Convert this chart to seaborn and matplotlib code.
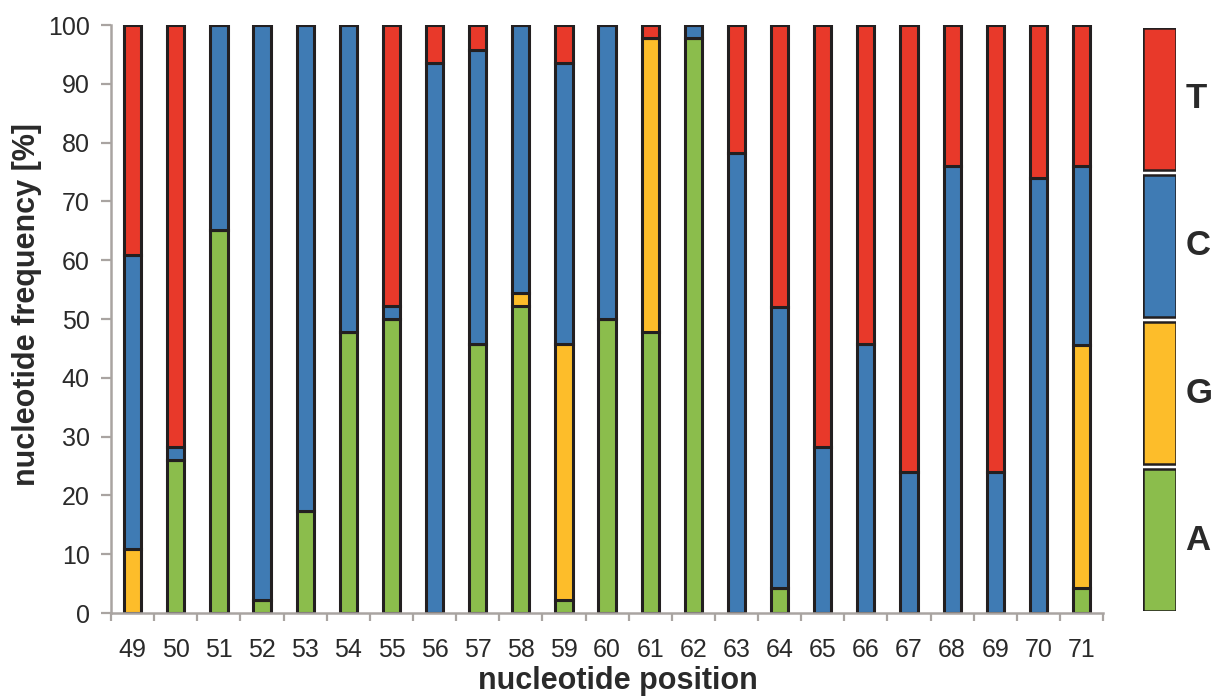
import numpy as np
import pandas as pd
import matplotlib
matplotlib.use("Agg")
import matplotlib.pyplot as plt
import seaborn as sns

# ---- data (percent per nucleotide at each position) ----
positions = list(range(49, 72))
freq_A = [0, 26.1, 65.2, 2.2, 17.4, 47.8, 50.0, 0, 45.7, 52.2, 2.2, 50.0,
          47.8, 97.8, 0, 4.3, 0, 0, 0, 0, 0, 0, 4.3]
freq_G = [10.9, 0, 0, 0, 0, 0, 0, 0, 0, 2.2, 43.5, 0,
          50.0, 0, 0, 0, 0, 0, 0, 0, 0, 0, 41.3]
freq_C = [50.0, 2.2, 34.8, 97.8, 82.6, 52.2, 2.2, 93.5, 50.0, 45.6, 47.8, 50.0,
          0, 2.2, 78.3, 47.8, 28.3, 45.7, 23.9, 76.1, 23.9, 73.9, 30.5]
freq_T = [39.1, 71.7, 0, 0, 0, 0, 47.8, 6.5, 4.3, 0, 6.5, 0,
          2.2, 0, 21.7, 47.9, 71.7, 54.3, 76.1, 23.9, 76.1, 26.1, 23.9]
nucleotides = ["T", "C", "G", "A"]          # top -> bottom
colors = {"T": "#e8392a", "C": "#3f7bb4", "G": "#fdbd2a", "A": "#8bbd4c"}
y_ticks = [0, 10, 20, 30, 40, 50, 60, 70, 80, 90, 100]

series = {"A": freq_A, "G": freq_G, "C": freq_C, "T": freq_T}
df = pd.DataFrame([
    {"position": p, "nucleotide": n, "freq": series[n][i]}
    for n in nucleotides for i, p in enumerate(positions)
])

# ---- style ----
sns.set_style("white")
plt.rcParams["font.family"] = ["Liberation Sans", "DejaVu Sans"]
edge = "#231f20"
axis_grey = "#a9a4a1"
text_col = "#2a2a2a"

fig = plt.figure(figsize=(12.15, 6.97), dpi=100)
ax = fig.add_axes([0.0914, 0.1205, 0.8165, 0.8436])

sns.histplot(data=df, x="position", weights="freq", hue="nucleotide",
             hue_order=nucleotides, palette=colors, multiple="stack",
             discrete=True, shrink=0.40, alpha=1, edgecolor=edge,
             linewidth=2.2, legend=False, ax=ax)

ax.set_xlim(positions[0] - 0.5, positions[-1] + 0.5)
ax.set_ylim(0, 100)
ax.set_xticks(positions)
ax.set_xticklabels([str(p) for p in positions])
ax.set_xticks(np.arange(positions[0] - 0.5, positions[-1] + 1.0, 1.0), minor=True)
ax.set_yticks(y_ticks)
ax.set_yticklabels([str(v) for v in y_ticks])

ax.tick_params(axis="x", which="major", length=0, pad=18, labelsize=18,
               labelcolor=text_col)
ax.tick_params(axis="x", which="minor", length=5.5, width=1.6, color=axis_grey,
               direction="out", bottom=True)
ax.tick_params(axis="y", which="major", length=7, width=1.6, color=axis_grey,
               direction="out", left=True, pad=8.5, labelsize=18,
               labelcolor=text_col)

for side in ["top", "right"]:
    ax.spines[side].set_visible(False)
for side in ["left", "bottom"]:
    ax.spines[side].set_color(axis_grey)
    ax.spines[side].set_linewidth(1.8)

ax.set_xlabel("nucleotide position", fontsize=22, fontweight="bold",
              color=text_col)
ax.set_ylabel("nucleotide frequency [%]", fontsize=22, fontweight="bold",
              color=text_col)
ax.xaxis.set_label_coords(0.5106, -0.090)
ax.yaxis.set_label_coords(-0.0696, 0.524)

# ---- legend key (stacked boxes with labels) ----
lax = fig.add_axes([0.9407, 0.1234, 0.0272, 0.8364])
leg_df = pd.DataFrame({"slot": [0, 0, 0, 0], "nucleotide": nucleotides[::-1],
                       "h": [0.965, 0.965, 0.965, 0.965],
                       "b": [0.0, 1.0, 2.0, 3.0]})
for _, r in leg_df.iterrows():
    lax.bar(r["slot"], r["h"], bottom=r["b"], width=1.0,
            color=colors[r["nucleotide"]], edgecolor=edge, linewidth=1.8)
    lax.text(0.78, r["b"] + r["h"] / 2, r["nucleotide"],
             ha="left", va="center", fontsize=25, fontweight="bold",
             color=text_col)
lax.set_xlim(-0.5, 0.5)
lax.set_ylim(0, 3.965)
lax.axis("off")

fig.savefig("out.png", dpi=100)
